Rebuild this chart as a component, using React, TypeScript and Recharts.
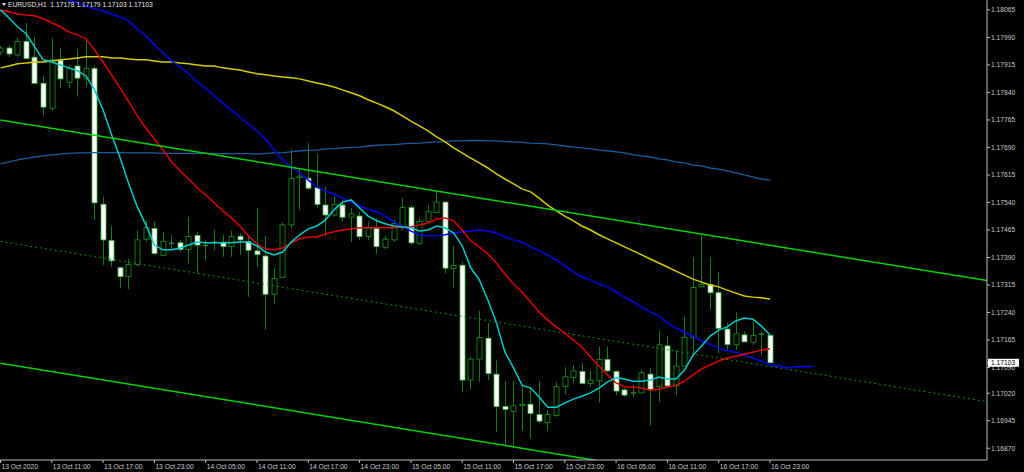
import React from "react";
import { ComposedChart, Bar, Line, XAxis, YAxis, ReferenceLine } from "recharts";

const symbol = "EURUSD";
const period = "H1";

// one bar per hour, bar 0 = 13 Oct 2020 05:00
const opens = [
  1.1795, 1.17961, 1.17942, 1.17979, 1.17936, 1.17865, 1.17797, 1.17927, 1.17867, 1.17912,
  1.17879, 1.17905, 1.17535, 1.17436, 1.17362, 1.17338, 1.17371, 1.1744, 1.17469, 1.17396,
  1.17426, 1.1743, 1.17412, 1.1745, 1.17421, 1.17429, 1.17432, 1.1742, 1.17448, 1.17434,
  1.17408, 1.17394, 1.1729, 1.17336, 1.17479, 1.17608, 1.17606, 1.1758, 1.17533, 1.17506,
  1.17533, 1.175, 1.17503, 1.17447, 1.1747, 1.17418, 1.17438, 1.17474, 1.17526, 1.17429,
  1.17488, 1.17513, 1.17541, 1.1736, 1.17369, 1.17056, 1.17113, 1.1717, 1.17072, 1.16984,
  1.1697, 1.16986, 1.1699, 1.16962, 1.1694, 1.16959, 1.17038, 1.17063, 1.17079, 1.17047,
  1.17054, 1.17112, 1.17079, 1.17029, 1.17018, 1.17021, 1.17072, 1.17038, 1.17149, 1.1704,
  1.17094, 1.17172, 1.1731, 1.17317, 1.17294, 1.17195, 1.17152, 1.17179, 1.17159, 1.17179,
  1.17178,
];
const highs = [
  1.17967, 1.1797, 1.17989, 1.18029, 1.17992, 1.17885, 1.17988, 1.17962, 1.17915, 1.17959,
  1.17986, 1.17912, 1.17556, 1.17476, 1.17365, 1.17386, 1.17463, 1.17492, 1.17488, 1.1746,
  1.17451, 1.17438, 1.17501, 1.1746, 1.17438, 1.17465, 1.17451, 1.17463, 1.17457, 1.17447,
  1.17526, 1.17449, 1.17361, 1.17485, 1.17685, 1.17634, 1.17702, 1.17672, 1.17583, 1.17556,
  1.17547, 1.17525, 1.17515, 1.17488, 1.17497, 1.17449, 1.17492, 1.17552, 1.17533, 1.17497,
  1.17533, 1.1757, 1.17542, 1.17421, 1.17378, 1.1712, 1.17245, 1.17212, 1.17109, 1.17053,
  1.17053, 1.17042, 1.17038, 1.17053, 1.16974, 1.1705, 1.17091, 1.17097, 1.17102, 1.17081,
  1.17147, 1.17147, 1.17083, 1.17033, 1.17042, 1.17083, 1.17088, 1.1719, 1.17176, 1.17138,
  1.17229, 1.17391, 1.17451, 1.17391, 1.17351, 1.17212, 1.1724, 1.17188, 1.17215, 1.17188,
  1.17179,
];
const lows = [
  1.17942, 1.17937, 1.17937, 1.17929, 1.17863, 1.17777, 1.1779, 1.17851, 1.17851, 1.17829,
  1.17856, 1.17492, 1.1737, 1.17365, 1.17306, 1.17304, 1.17365, 1.17433, 1.17397, 1.17394,
  1.1741, 1.17406, 1.17374, 1.17347, 1.17383, 1.1741, 1.17392, 1.17392, 1.17397, 1.17283,
  1.17365, 1.17194, 1.17265, 1.17334, 1.1747, 1.1752, 1.17574, 1.17525, 1.17447, 1.17501,
  1.17488, 1.17432, 1.17438, 1.17438, 1.174, 1.17413, 1.17433, 1.17465, 1.17424, 1.17424,
  1.17487, 1.17511, 1.17347, 1.17308, 1.17022, 1.17031, 1.17051, 1.17056, 1.16915, 1.16879,
  1.16874, 1.16918, 1.16897, 1.16938, 1.16918, 1.16956, 1.17017, 1.17049, 1.17045, 1.17038,
  1.16995, 1.17078, 1.17015, 1.1701, 1.1701, 1.17021, 1.16933, 1.16997, 1.17037, 1.17015,
  1.17092, 1.17124, 1.1731, 1.17249, 1.17129, 1.17138, 1.17138, 1.1716, 1.17152, 1.17124,
  1.17103,
];
const closes = [
  1.17961, 1.17945, 1.17979, 1.17933, 1.17865, 1.178, 1.17929, 1.17877, 1.17906, 1.17879,
  1.17906, 1.17539, 1.17438, 1.17381, 1.17338, 1.17371, 1.17438, 1.17472, 1.17401, 1.17434,
  1.17429, 1.17412, 1.17447, 1.17424, 1.17423, 1.17432, 1.1742, 1.17447, 1.17438, 1.1741,
  1.17398, 1.1729, 1.17333, 1.17479, 1.17606, 1.17612, 1.17579, 1.17535, 1.17506, 1.17535,
  1.175, 1.17509, 1.17447, 1.1747, 1.1742, 1.1744, 1.17483, 1.17526, 1.1743, 1.17488,
  1.17515, 1.17541, 1.17361, 1.17368, 1.17056, 1.17113, 1.17172, 1.17074, 1.16984, 1.16976,
  1.16986, 1.1699, 1.16965, 1.16944, 1.16962, 1.17038, 1.17065, 1.17081, 1.17047, 1.17056,
  1.17112, 1.17081, 1.17026, 1.17015, 1.17021, 1.17076, 1.17029, 1.17152, 1.1704, 1.17094,
  1.17172, 1.17308, 1.17317, 1.17294, 1.17197, 1.17153, 1.17182, 1.1716, 1.17178, 1.17181,
  1.17103,
];

// moving averages
const maCyan = [
  1.18065, 1.18043, 1.18019, 1.18, 1.17964, 1.17929, 1.17923, 1.17915, 1.17907, 1.17899,
  1.17885, 1.17847, 1.17792, 1.17724, 1.17661, 1.17591, 1.17528, 1.17479, 1.17424, 1.17411,
  1.17411, 1.17416, 1.17424, 1.17432, 1.1743, 1.1743, 1.1743, 1.1743, 1.17432, 1.17432,
  1.17422, 1.17405, 1.17397, 1.17405, 1.17432, 1.17452, 1.17468, 1.17476, 1.17492, 1.1752,
  1.17541, 1.17547, 1.17525, 1.17503, 1.1749, 1.17482, 1.17476, 1.17473, 1.17471, 1.17462,
  1.17465, 1.17476, 1.17471, 1.17457, 1.17422, 1.17362, 1.17329, 1.17274, 1.17212, 1.17132,
  1.17089, 1.17042, 1.17034, 1.1701, 1.16982, 1.16982, 1.16993, 1.17004, 1.17012, 1.17021,
  1.17034, 1.17051, 1.17062, 1.17059, 1.17053, 1.17053, 1.17056, 1.17064, 1.17059, 1.17059,
  1.17083, 1.17124, 1.17149, 1.17176, 1.17192, 1.17201, 1.17217, 1.17225, 1.17222, 1.17203,
  1.17179,
];
const maRed = [
  1.18065, 1.1806, 1.18054, 1.18051, 1.18049, 1.18041, 1.1803, 1.18019, 1.18005, 1.17997,
  1.17986, 1.17956, 1.17923, 1.17888, 1.17852, 1.17814, 1.17776, 1.17743, 1.17713, 1.17683,
  1.17651, 1.17626, 1.17604, 1.1758, 1.17561, 1.17539, 1.17517, 1.17498, 1.17476, 1.17449,
  1.17427, 1.17413, 1.17411, 1.17416, 1.1743, 1.17441, 1.17446, 1.17446, 1.17454, 1.1746,
  1.17465, 1.17468, 1.17471, 1.17471, 1.17471, 1.17471, 1.17471, 1.17473, 1.17473, 1.17479,
  1.17484, 1.17495, 1.17498, 1.1749, 1.17465, 1.17435, 1.17419, 1.174, 1.17375, 1.17345,
  1.17318, 1.17296, 1.17269, 1.17241, 1.1722, 1.17201, 1.17184, 1.17165, 1.17146, 1.17119,
  1.17094, 1.1707, 1.17048, 1.17037, 1.17037, 1.17034, 1.17029, 1.17031, 1.17037, 1.17042,
  1.17053, 1.1707, 1.17086, 1.17097, 1.17108, 1.17116, 1.17121, 1.17127, 1.17132, 1.17138,
  1.17141,
];
// shifted 5 bars forward, so it runs 5 bars past the last candle
const maBlue = [
  1.18147, 1.18139, 1.18131, 1.18122, 1.18117, 1.18111, 1.18106, 1.18098, 1.18092, 1.18084,
  1.18076, 1.18068, 1.18062, 1.18054, 1.18046, 1.18035, 1.18013, 1.17994, 1.1797, 1.17948,
  1.17926, 1.1791, 1.17891, 1.17869, 1.1785, 1.17831, 1.17811, 1.17792, 1.17773, 1.17754,
  1.17735, 1.17713, 1.17683, 1.17656, 1.17637, 1.17621, 1.17601, 1.17582, 1.17571, 1.17563,
  1.17552, 1.17541, 1.17531, 1.17522, 1.17514, 1.17503, 1.17487, 1.17476, 1.17462, 1.17452,
  1.17449, 1.17449, 1.17452, 1.17457, 1.1746, 1.17462, 1.17465, 1.17462, 1.17457, 1.17446,
  1.17438, 1.17432, 1.17419, 1.17408, 1.17397, 1.17383, 1.17367, 1.17351, 1.17337, 1.17329,
  1.17318, 1.1731, 1.17296, 1.17282, 1.17269, 1.17255, 1.17241, 1.17231, 1.17212, 1.17198,
  1.17187, 1.17176, 1.17162, 1.17154, 1.17143, 1.17135, 1.17132, 1.17124, 1.17116, 1.17108,
  1.17097, 1.17094, 1.17089, 1.17092, 1.17092, 1.17092,
];
const maYellow = [
  1.17907, 1.17912, 1.17918, 1.1792, 1.17923, 1.17923, 1.17926, 1.17929, 1.17931, 1.17934,
  1.17937, 1.17937, 1.17937, 1.17934, 1.17934, 1.17931, 1.17929, 1.17929, 1.17926, 1.17923,
  1.17923, 1.1792, 1.17918, 1.17915, 1.17912, 1.17912, 1.17907, 1.17904, 1.17901, 1.17896,
  1.17891, 1.17888, 1.17885, 1.17882, 1.1788, 1.17877, 1.17871, 1.17866, 1.17861, 1.17855,
  1.17847, 1.17839, 1.17831, 1.1782, 1.17811, 1.17801, 1.1779, 1.17776, 1.17762, 1.17749,
  1.17735, 1.17719, 1.17705, 1.17689, 1.17675, 1.17661, 1.17648, 1.17634, 1.17618, 1.17604,
  1.17591, 1.17577, 1.17569, 1.17552, 1.17533, 1.17517, 1.17503, 1.1749, 1.17476, 1.17465,
  1.17452, 1.17441, 1.1743, 1.17419, 1.17408, 1.17397, 1.17386, 1.17375, 1.17364, 1.17353,
  1.17342, 1.17331, 1.17323, 1.17315, 1.1731, 1.17301, 1.17293, 1.17285, 1.17282, 1.1728,
  1.17277,
];
const maSlow = [
  1.17645, 1.17651, 1.17656, 1.1766, 1.17664, 1.17667, 1.1767, 1.17672, 1.17674, 1.17675,
  1.17675, 1.17676, 1.17676, 1.17676, 1.17676, 1.17675, 1.17675, 1.17675, 1.17675, 1.17674,
  1.17674, 1.17674, 1.17674, 1.17674, 1.17674, 1.17674, 1.17673, 1.17673, 1.17673, 1.17673,
  1.17672, 1.17674, 1.17675, 1.17676, 1.17678, 1.17681, 1.17682, 1.17683, 1.17686, 1.17687,
  1.17689, 1.1769, 1.17691, 1.17694, 1.17696, 1.17697, 1.17698, 1.177, 1.17701, 1.17702,
  1.17704, 1.17705, 1.17706, 1.17708, 1.17708, 1.17709, 1.17709, 1.17708, 1.17708, 1.17706,
  1.17705, 1.17704, 1.17702, 1.17701, 1.177, 1.17697, 1.17694, 1.17691, 1.17689, 1.17686,
  1.17683, 1.17681, 1.17678, 1.17675, 1.1767, 1.17667, 1.17664, 1.17659, 1.17656, 1.17651,
  1.17648, 1.17642, 1.1764, 1.17634, 1.17631, 1.17626, 1.17621, 1.17615, 1.1761, 1.17604,
  1.17601,
];

// regression channel (bar, price) end points
const channelUpper = [{ x: 0, y: 1.17765 }, { x: 115.4, y: 1.17327 }];
const channelMiddle = [{ x: 0, y: 1.17434 }, { x: 115.4, y: 1.16997 }];
const channelLower = [{ x: 0, y: 1.17102 }, { x: 115.4, y: 1.16663 }];

const xTickBars = [0, 6, 12, 18, 24, 30, 36, 42, 48, 54, 60, 66, 72, 78, 84, 90];
const xTickLabels = [
  "13 Oct 2020", "13 Oct 11:00", "13 Oct 17:00", "13 Oct 23:00",
  "14 Oct 05:00", "14 Oct 11:00", "14 Oct 17:00", "14 Oct 23:00",
  "15 Oct 05:00", "15 Oct 11:00", "15 Oct 17:00", "15 Oct 23:00",
  "16 Oct 05:00", "16 Oct 11:00", "16 Oct 17:00", "16 Oct 23:00",
];
const yTicks = [
  1.18065, 1.1799, 1.17915, 1.1784, 1.17765, 1.1769, 1.17615, 1.1754, 1.17465,
  1.1739, 1.17315, 1.1724, 1.17165, 1.1709, 1.1702, 1.16945, 1.1687,
];

const last = opens.length - 1;
const lastClose = closes[last];

const data = maBlue.map((blue, i) => ({
  i,
  open: opens[i],
  high: highs[i],
  low: lows[i],
  close: closes[i],
  range: i < opens.length ? [lows[i], highs[i]] : null,
  cyan: maCyan[i],
  red: maRed[i],
  blue,
  yellow: maYellow[i],
  slow: maSlow[i],
}));

const AXIS = "#bdbdbd";
const TEXT = "#c8c8c8";
const FONT = "'Liberation Sans', Arial, sans-serif";

function Candle(props: any) {
  const { x, y, width, height, payload } = props;
  if (payload == null || payload.open == null || y == null) return null;
  const top = Math.min(y, y + height);
  const h = Math.abs(height);
  const span = payload.high - payload.low;
  const py = (p: number) => (span > 0 ? top + ((payload.high - p) / span) * h : top);
  const cx = Math.round(x + width / 2) + 0.5;
  const bull = payload.close >= payload.open;
  const bTop = py(Math.max(payload.open, payload.close));
  const bBot = py(Math.min(payload.open, payload.close));
  const bw = 5;
  return (
    <g>
      <line x1={cx} x2={cx} y1={top} y2={top + h} stroke="#0d800d" strokeWidth={1} />
      {bBot - bTop < 1.2 ? (
        <line x1={cx - bw / 2} x2={cx + bw / 2} y1={bTop} y2={bTop} stroke={bull ? "#2aa82a" : "#e8ffe8"} strokeWidth={1.2} />
      ) : (
        <rect
          x={cx - bw / 2}
          y={bTop}
          width={bw}
          height={bBot - bTop}
          fill={bull ? "#000" : "#fff"}
          stroke={bull ? "#159a15" : "#3cc03c"}
          strokeWidth={0.8}
        />
      )}
    </g>
  );
}

function TimeTick(props: any) {
  const { x, y, payload } = props;
  const k = xTickBars.indexOf(payload.value);
  return (
    <text x={x + 1} y={y + 5.5} fill={TEXT} fontSize={6.7} fontFamily={FONT} textAnchor="start">
      {xTickLabels[k]}
    </text>
  );
}

function PriceTick(props: any) {
  const { x, y, payload } = props;
  if (payload.value === lastClose) {
    return (
      <g>
        <rect x={x - 3} y={y - 4} width={31} height={8} fill="#fff" />
        <text x={x} y={y} dy={2.4} fill="#000" fontSize={6.7} fontFamily={FONT} textAnchor="start">
          {lastClose.toFixed(5)}
        </text>
      </g>
    );
  }
  return (
    <text x={x} y={y} dy={2.4} fill={TEXT} fontSize={6.7} fontFamily={FONT} textAnchor="start">
      {payload.value.toFixed(5)}
    </text>
  );
}

const lineProps = { dot: false, activeDot: false, isAnimationActive: false, type: "linear" as const };

export default function App() {
  const title = `${symbol},${period}  ${opens[last].toFixed(5)} ${highs[last].toFixed(5)} ${lows[last].toFixed(5)} ${closes[last].toFixed(5)}`;
  return (
    <div style={{ position: "fixed", left: 0, top: 0, width: 1024, height: 472, background: "#000" }}>
      <ComposedChart width={1024} height={472} data={data} margin={{ top: 0, right: 0, bottom: 0, left: 0 }}>
        <XAxis
          dataKey="i"
          type="number"
          domain={[-0.0585, 115.38]}
          allowDataOverflow
          ticks={xTickBars}
          interval={0}
          height={12}
          tickSize={3}
          tickMargin={0}
          axisLine={{ stroke: AXIS }}
          tickLine={{ stroke: AXIS }}
          tick={<TimeTick />}
        />
        <YAxis
          orientation="right"
          type="number"
          domain={[1.16838, 1.18092]}
          allowDataOverflow
          ticks={[...yTicks, lastClose]}
          interval={0}
          width={37}
          tickSize={3}
          tickMargin={1}
          axisLine={{ stroke: AXIS }}
          tickLine={{ stroke: AXIS }}
          tick={<PriceTick />}
        />
        <ReferenceLine segment={channelMiddle} stroke="#0a8f0a" strokeDasharray="2 3" strokeWidth={1} ifOverflow="hidden" />
        <Bar dataKey="range" barSize={6} shape={<Candle />} activeBar={false} isAnimationActive={false} />
        <Line dataKey="slow" stroke="#1d5c9c" strokeWidth={1.3} {...lineProps} />
        <Line dataKey="yellow" stroke="#d6cc00" strokeWidth={1.5} {...lineProps} />
        <Line dataKey="blue" stroke="#0000f0" strokeWidth={1.5} {...lineProps} />
        <Line dataKey="red" stroke="#e00000" strokeWidth={1.5} {...lineProps} />
        <Line dataKey="cyan" stroke="#00cccc" strokeWidth={1.5} {...lineProps} />
        <ReferenceLine segment={channelUpper} stroke="#00d400" strokeWidth={1.5} ifOverflow="hidden" />
        <ReferenceLine segment={channelLower} stroke="#00d400" strokeWidth={1.5} ifOverflow="hidden" />
      </ComposedChart>
      <div
        style={{
          position: "absolute",
          left: 2,
          top: 0,
          display: "flex",
          alignItems: "center",
          gap: 2,
          color: "#e6e6e6",
          fontFamily: FONT,
          fontSize: 6.7,
          lineHeight: "9px",
          whiteSpace: "pre",
        }}
      >
        <svg width={4} height={3}>
          <polygon points="0,0 4,0 2,3" fill="#e6e6e6" />
        </svg>
        <span>{title}</span>
      </div>
    </div>
  );
}
